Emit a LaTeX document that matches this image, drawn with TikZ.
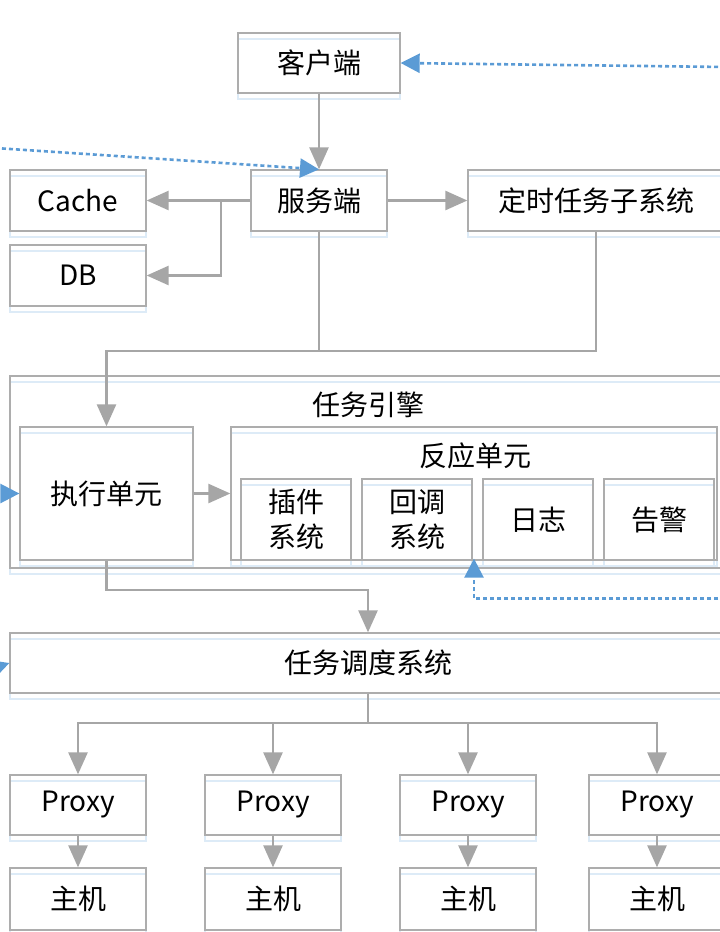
\documentclass[tikz,border=0pt]{standalone}
\usepackage{fontspec}
\setmainfont{Noto Sans CJK SC}
\usepackage{tikz}
\usetikzlibrary{arrows.meta}
\usepackage{xcolor}
\definecolor{linha}{HTML}{A6A6A6}
\definecolor{borda}{HTML}{ADADAD}
\definecolor{reflexo}{HTML}{DDEBF7}
\definecolor{azul}{HTML}{5B9BD5}

\begin{document}
\begin{tikzpicture}[x=1bp, y=-1bp,
    texto/.style={inner sep=0pt, align=center, font=\fontsize{28bp}{35bp}\selectfont},
    caixa/.style={texto, draw=borda, line width=1.3bp, minimum width=136bp, minimum height=61bp,
        preaction={draw=reflexo, line width=1.3bp, transform canvas={yshift=-6bp}}},
    liga/.style={draw=linha, line width=2.6bp, -{Triangle[length=22bp, width=19bp]}},
    traco/.style={draw=linha, line width=2.6bp},
    retorno/.style={draw=azul, line width=2.6bp, dash pattern=on 4bp off 3bp,
        -{Triangle[length=19bp, width=19bp]}}]
    \useasboundingbox (0,0) rectangle (720,932);
    \clip (0,0) rectangle (720,932);
    % Caixas
    \node[caixa, minimum width=162bp, minimum height=60bp] (cliente) at (319,63) {客户端};
    \node[caixa] (servidor) at (319,200.5) {服务端};
    \node[caixa] (cache) at (78,200.5) {Cache};
    \node[caixa] (db) at (78,275.5) {DB};
    \node[caixa, minimum width=256bp] (tempo) at (596,200.5) {定时任务子系统};
    % Motor de tarefas
    \node[caixa, minimum width=716bp, minimum height=192bp] (motor) at (368,472) {};
    \node[texto] (motorTxt) at (368,405) {任务引擎};
    \node[caixa, minimum width=173bp, minimum height=133bp] (exec) at (106.5,493.5) {执行单元};
    \node[caixa, minimum width=486bp, minimum height=133bp] (reacao) at (474,493.5) {};
    \node[texto] (reacaoTxt) at (475,456) {反应单元};
    \node[caixa, minimum width=110bp, minimum height=81bp] (plugin) at (296,519.5) {插件\\系统};
    \node[caixa, minimum width=110bp, minimum height=81bp] (callback) at (417,519.5) {回调\\系统};
    \node[caixa, minimum width=110bp, minimum height=81bp] (log) at (538,519.5) {日志};
    \node[caixa, minimum width=110bp, minimum height=81bp] (alerta) at (659,519.5) {告警};
    % Escalonamento
    \node[caixa, minimum width=716bp, minimum height=60bp] (escala) at (368,663) {任务调度系统};
    \foreach \i/\x in {1/78, 2/273, 3/468, 4/657} {
        \node[caixa, minimum height=60bp] (proxy\i) at (\x,805) {Proxy};
        \node[caixa, minimum height=62bp] (host\i) at (\x,899) {主机};
        \draw[liga] (proxy\i) -- (host\i);
    }
    % Ligações
    \coordinate (divide) at (221,200.5);
    \coordinate (junta) at (106.5,351);
    \coordinate (desce) at (368,590);
    \coordinate (leque) at (368,723);
    \draw[liga] (cliente) -- (servidor);
    \draw[liga] (servidor) -- (cache);
    \draw[liga] (divide) |- (db.east);
    \draw[liga] (servidor) -- (tempo);
    \draw[traco] (servidor.south) -- (servidor.south |- junta);
    \draw[liga] (tempo.south) |- (junta) -- (exec.north);
    \draw[liga] (exec) -- (reacao);
    \draw[liga] (exec.south) |- (desce) -- (escala.north);
    \draw[traco] (escala.south) -- (leque);
    \foreach \i in {1,...,4}
        \draw[liga] (leque) -| (proxy\i.north);
    % Setas tracejadas
    \coordinate (deDireita) at (725,67);
    \coordinate (deEsquerda) at (-5,148);
    \coordinate (deBaixo) at (725,598.5);
    \coordinate (deFora) at (-40,493.5);
    \coordinate (deCanto) at (-60,687);
    \draw[retorno] (deDireita) -- (cliente.east);
    \draw[retorno] (deEsquerda) -- (servidor.north);
    \draw[retorno] (deBaixo) -| ([yshift=2bp]reacao.south);
    \draw[retorno] (deFora) -- (exec.west);
    \draw[retorno] (deCanto) -- (escala.west);
\end{tikzpicture}
\end{document}
